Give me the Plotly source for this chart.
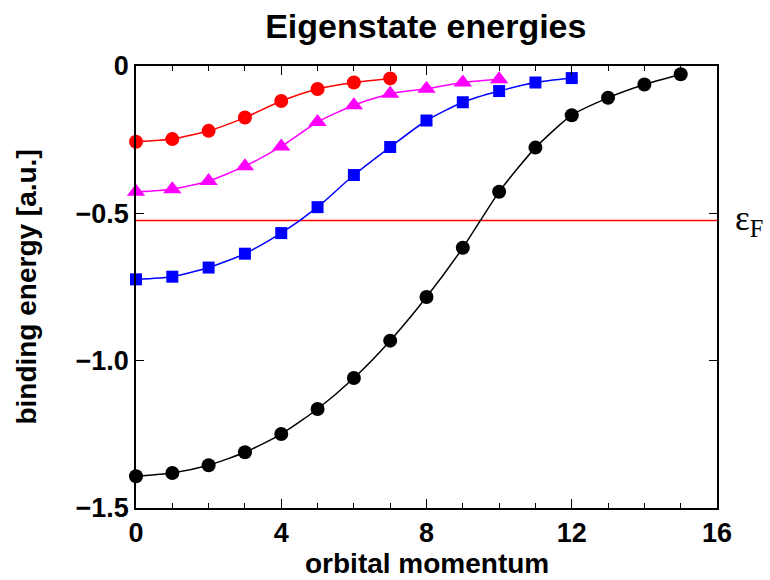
import plotly.graph_objects as go

# Data
l_black = list(range(0, 16))
e_black = [-1.392, -1.381, -1.355, -1.311, -1.249, -1.164, -1.059, -0.932,
           -0.784, -0.617, -0.427, -0.277, -0.167, -0.108, -0.063, -0.028]
l_blue = list(range(0, 13))
e_blue = [-0.724, -0.715, -0.684, -0.637, -0.567, -0.479, -0.370, -0.275,
          -0.185, -0.123, -0.085, -0.056, -0.041]
l_magenta = list(range(0, 11))
e_magenta = [-0.427, -0.418, -0.390, -0.340, -0.273, -0.190, -0.133, -0.094,
             -0.077, -0.056, -0.045]
l_red = list(range(0, 8))
e_red = [-0.257, -0.248, -0.220, -0.175, -0.119, -0.078, -0.056, -0.042]
fermi_x = [0, 16]
fermi_level = -0.524

x_ticks = [0, 4, 8, 12, 16]
y_ticks = [0, -0.5, -1.0, -1.5]
y_tick_text = ["0", "\u22120.5", "\u22121.0", "\u22121.5"]

FONT = "Liberation Sans, Arial, sans-serif"

fig = go.Figure()

fig.add_trace(go.Scatter(x=fermi_x, y=[fermi_level, fermi_level], mode="lines",
                         line=dict(color="#ff0000", width=1.5), showlegend=False,
                         hoverinfo="skip", cliponaxis=False))

series = [
    (l_black, e_black, "black", "circle", 14),
    (l_blue, e_blue, "#0000ff", "square", 12),
    (l_magenta, e_magenta, "#ff00ff", "triangle-up", 16),
    (l_red, e_red, "#ff0000", "circle", 14),
]
for xs, ys, col, sym, sz in series:
    fig.add_trace(go.Scatter(
        x=xs, y=ys, mode="lines+markers",
        line=dict(color=col, width=1.5, shape="spline", smoothing=0.6),
        marker=dict(color=col, symbol=sym, size=sz, line=dict(width=0)),
        showlegend=False, cliponaxis=False))

fig.update_layout(
    width=770, height=580,
    margin=dict(l=136, r=53, t=66, b=72),
    plot_bgcolor="white", paper_bgcolor="white",
    title=dict(text="<b>Eigenstate energies</b>", x=0.553, xanchor="center",
               y=0.955, yanchor="middle",
               font=dict(family=FONT, size=34, color="black")),
    xaxis=dict(range=[0, 16], tickvals=x_ticks, ticktext=[f"<b>{v}</b>" for v in x_ticks],
               ticks="inside", ticklen=9, tickwidth=1.2, tickcolor="black",
               minor=dict(dtick=1, ticks="inside", ticklen=5, tickwidth=1.2, tickcolor="black"),
               showline=True, linecolor="black", linewidth=1.5, mirror="ticks",
               showgrid=False, zeroline=False,
               tickfont=dict(family=FONT, size=27, color="black")),
    yaxis=dict(range=[-1.5, 0], tickvals=y_ticks,
               ticktext=[f"<b>{t}</b>" for t in y_tick_text],
               ticks="inside", ticklen=8, tickwidth=1.2, tickcolor="black",
               showline=True, linecolor="black", linewidth=1.5, mirror="ticks",
               showgrid=False, zeroline=False,
               tickfont=dict(family=FONT, size=27, color="black")),
    annotations=[
        dict(text="<b>orbital momentum</b>", xref="paper", yref="paper",
             x=0.5, y=-0.125, xanchor="center", yanchor="middle",
             showarrow=False, font=dict(family=FONT, size=28, color="black")),
        dict(text="<b>binding energy [a.u.]</b>", xref="paper", yref="paper",
             x=-0.19, y=0.5, xanchor="center", yanchor="middle", textangle=-90,
             showarrow=False, font=dict(family=FONT, size=28, color="black")),
        dict(text="\u03b5<sub>F</sub>", xref="paper", yref="y",
             x=1.028, y=fermi_level, xanchor="left", yanchor="middle",
             showarrow=False, font=dict(family="Liberation Serif, Times New Roman, serif",
                                         size=35, color="black")),
    ],
)

fig.write_html("out.html")
